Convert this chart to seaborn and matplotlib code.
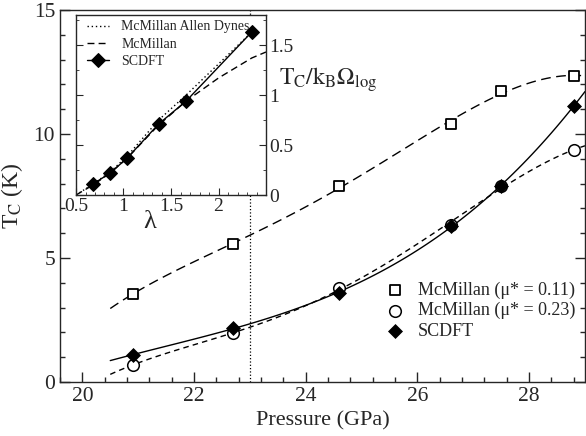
import numpy as np
import pandas as pd
import matplotlib
matplotlib.use("Agg")
import matplotlib.pyplot as plt
import seaborn as sns
from matplotlib.ticker import MultipleLocator, FormatStrFormatter

# main panel: Tc vs pressure
pressure = [20.9, 22.7, 24.6, 26.6, 27.5, 28.8]
tc_mcm_011 = [3.55, 5.56, 7.90, 10.39, 11.75, 12.34]
tc_mcm_023 = [0.69, 1.96, 3.78, 6.35, 7.90, 9.35]
tc_scdft = [1.09, 2.19, 3.58, 6.30, 7.92, 11.13]
p_marker = 23.0

# inset: reduced Tc vs lambda
lam_scdft = [0.68, 0.86, 1.04, 1.37, 1.66, 2.35]
red_scdft = [0.11, 0.22, 0.37, 0.71, 0.94, 1.63]
lam_curve = [0.5, 0.68, 0.86, 1.04, 1.37, 1.66, 2.0, 2.35, 2.5]
red_mcm = [0.0, 0.10, 0.22, 0.37, 0.70, 0.94, 1.17, 1.37, 1.43]
red_mad = [0.0, 0.11, 0.23, 0.39, 0.75, 1.00, 1.31, 1.63]

sns.set_style("ticks")
plt.rcParams["font.family"] = ["Liberation Serif", "DejaVu Serif"]
plt.rcParams["mathtext.fontset"] = "stix"
plt.rcParams["axes.linewidth"] = 1.0

df = pd.DataFrame({"P": pressure, "a": tc_mcm_011, "b": tc_mcm_023, "c": tc_scdft})

fig = plt.figure(figsize=(5.86, 4.36), dpi=100)
ax = fig.add_axes([60 / 586, 1 - 382 / 436, 525 / 586, 372 / 436])

# fitted curves span from 20.5 up to the right edge
ax.set_xlim(20.5, 29.0)
fit_style = dict(scatter=False, ci=None, truncate=False)
sns.regplot(data=df, x="P", y="a", ax=ax, order=4,
            line_kws=dict(color="k", lw=1.0, ls=(0, (7, 4))), **fit_style)
sns.regplot(data=df, x="P", y="b", ax=ax, order=4,
            line_kws=dict(color="k", lw=1.0, ls=(0, (4, 3))), **fit_style)
sns.regplot(data=df, x="P", y="c", ax=ax, order=3,
            line_kws=dict(color="k", lw=1.0, ls="-"), **fit_style)

sns.scatterplot(data=df, x="P", y="a", ax=ax, marker="s", s=60, facecolor="white",
                edgecolor="k", linewidth=1.3, label="McMillan (\u03bc* = 0.11)", zorder=5)
sns.scatterplot(data=df, x="P", y="b", ax=ax, marker="o", s=70, facecolor="white",
                edgecolor="k", linewidth=1.1, label="McMillan (\u03bc* = 0.23)", zorder=5)
sns.scatterplot(data=df, x="P", y="c", ax=ax, marker="D", s=50, color="k",
                edgecolor="k", label="SCDFT", zorder=6)

ax.axvline(p_marker, color="k", lw=0.9, ls=":", zorder=1)

ax.set_xlim(19.6, 29.0)
ax.set_ylim(0, 15)
ax.xaxis.set_major_locator(MultipleLocator(2))
ax.xaxis.set_minor_locator(MultipleLocator(0.4))
ax.yaxis.set_major_locator(MultipleLocator(5))
ax.yaxis.set_minor_locator(MultipleLocator(1))
ax.tick_params(which="both", direction="in", right=True, top=False, labelsize=15.5)
ax.tick_params(which="major", length=7, width=1.0)
ax.tick_params(which="minor", length=3.5, width=1.0)
ax.set_xlabel("Pressure (GPa)", fontsize=16, labelpad=4)
ax.set_ylabel(r"T$_\mathrm{C}$ (K)", fontsize=17, labelpad=6)

ax.legend(loc="upper left", bbox_to_anchor=(0.62, 0.27), frameon=False, fontsize=13,
          handlelength=1.0, handletextpad=0.8, labelspacing=0.18, borderpad=0, borderaxespad=0)

# inset
ins = fig.add_axes([76 / 586, 1 - 195 / 436, 190 / 586, 180 / 436])
ins.set_facecolor("white")
sns.lineplot(x=lam_curve[:len(red_mad)], y=red_mad, ax=ins, color="k", lw=1.0,
             ls=(0, (1, 2)), label="McMillan Allen Dynes")
sns.lineplot(x=lam_curve, y=red_mcm, ax=ins, color="k", lw=1.0,
             ls=(0, (5, 3)), label="McMillan")
sns.lineplot(x=lam_scdft, y=red_scdft, ax=ins, color="k", lw=1.0, marker="D",
             markersize=7, markeredgecolor="k", label="SCDFT")

ins.set_xlim(0.5, 2.5)
ins.set_ylim(0, 1.8)
ins.set_xticks([0.5, 1, 1.5, 2])
ins.xaxis.set_minor_locator(MultipleLocator(0.1))
ins.yaxis.set_major_locator(MultipleLocator(0.5))
ins.yaxis.set_minor_locator(MultipleLocator(0.25))
ins.xaxis.set_major_formatter(FormatStrFormatter("%g"))
ins.yaxis.set_major_formatter(FormatStrFormatter("%g"))
ins.tick_params(which="both", direction="in", left=True, right=True, top=False,
                labelleft=False, labelright=True, labelsize=14, pad=2)
ins.tick_params(which="major", length=5)
ins.tick_params(which="minor", length=2.5)
ins.set_xlabel("\u03bb", fontsize=19)
ins.xaxis.set_label_coords(0.39, -0.09)
ins.set_ylabel("")
ins.text(1.07, 0.64, r"$\mathrm{T_C/k_B\Omega_{log}}$", transform=ins.transAxes,
         fontsize=17, ha="left", va="center")
ins.legend(loc="upper left", bbox_to_anchor=(0.056, 0.97), frameon=False, fontsize=10,
           handlelength=1.6, handletextpad=0.9, labelspacing=0.3, borderpad=0, borderaxespad=0)

fig.savefig("out.png", dpi=100)
